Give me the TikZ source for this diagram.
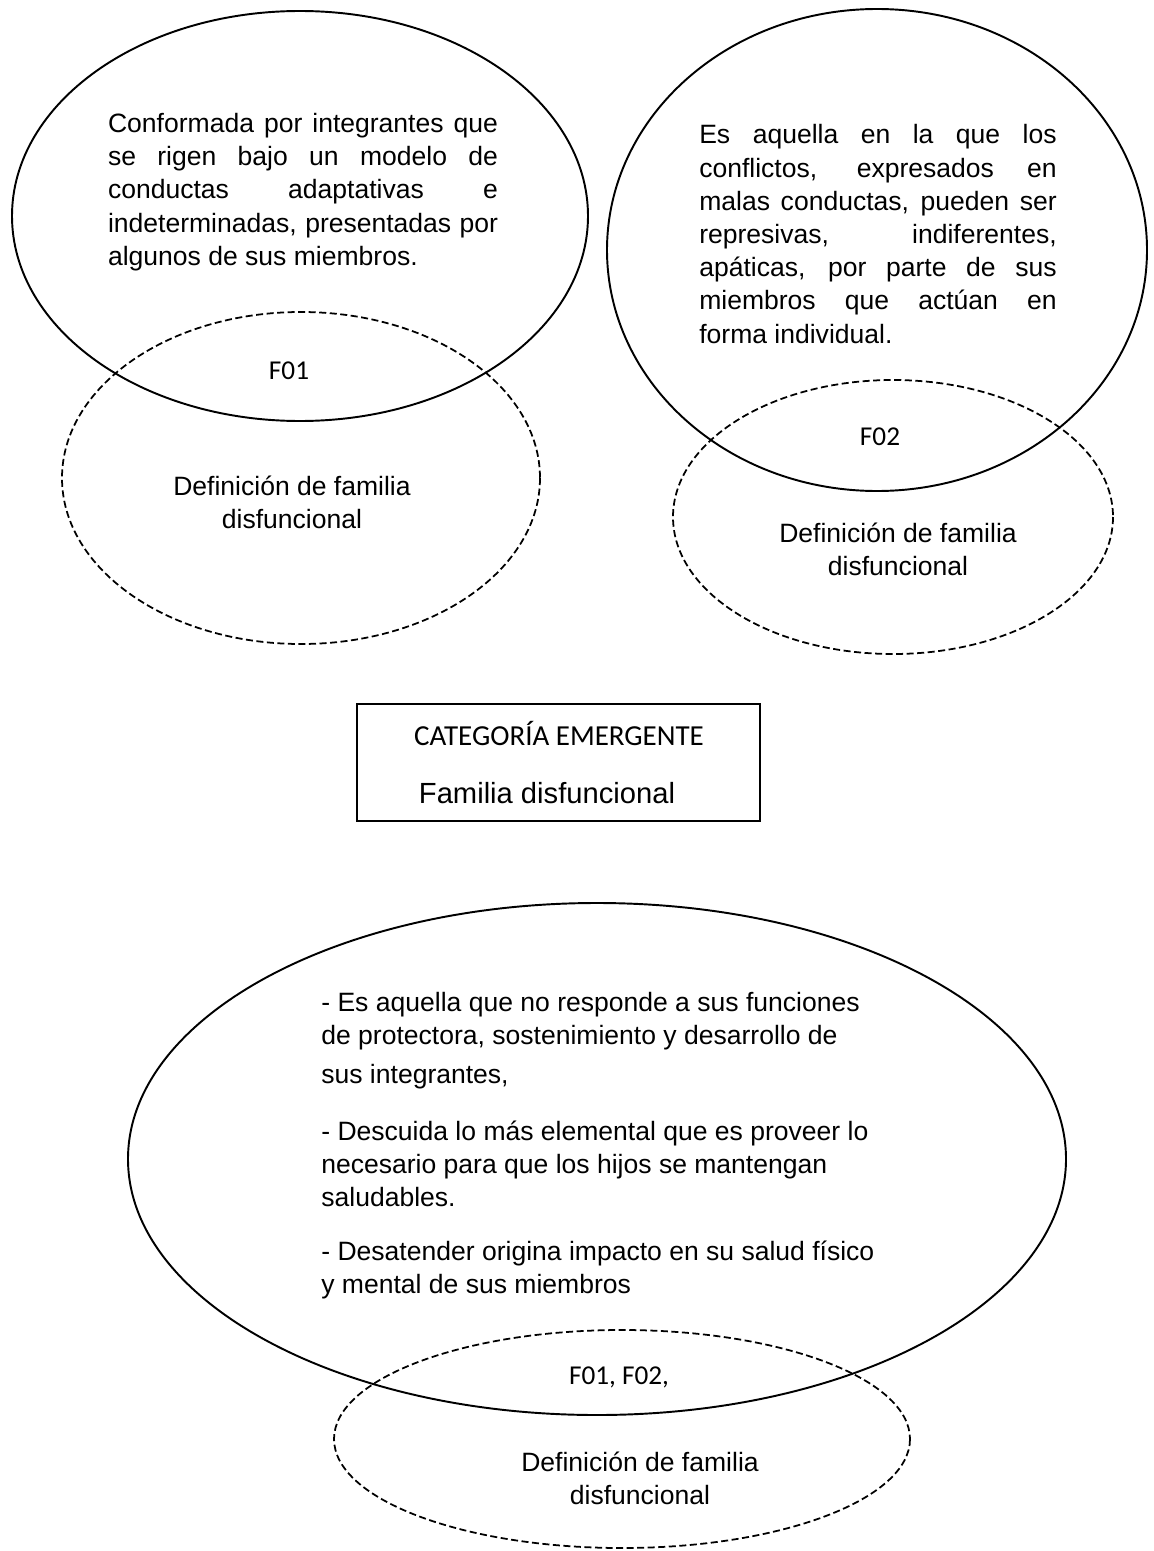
\documentclass[tikz,border=0pt]{standalone}
\usepackage{fontspec}
\setmainfont{Liberation Sans}
\newfontfamily\calibrifont{Carlito}
\usepackage{tikz}
\usetikzlibrary{positioning}

% body text of the ellipses
\newcommand{\bodytext}{\fontsize{15.1}{18.9}\selectfont\tolerance=10000\relax}
\newcommand{\tagtext}{\calibrifont\fontsize{15.5}{18}\selectfont}

\begin{document}
\begin{tikzpicture}[x=0.02cm, y=-0.02cm,
    ring/.style={line width=1.1pt},
    defring/.style={line width=1pt, dash pattern=on 4pt off 2pt},
    para/.style={inner sep=0pt, align=justify, font=\bodytext},
    deftext/.style={inner sep=0pt, align=center, font=\bodytext},
    tag/.style={inner sep=0pt, font=\tagtext}]
  \useasboundingbox (0,0) rectangle (1153,1551);

  % F01: solid ellipse with its definition, dashed ellipse with the label
  \draw[ring] (300,216) ellipse [x radius=288, y radius=205];
  \draw[defring] (301,478) ellipse [x radius=239, y radius=166];
  \node[para, text width=7.8cm] (defA) at (303,192)
    {Conformada por integrantes que\linebreak se rigen bajo un modelo de\linebreak
     conductas adaptativas e\linebreak indeterminadas, presentadas por\linebreak
     algunos de sus miembros.};
  \node[tag] (tagA) at (289,371) {F01};
  \node[deftext] (catA) at (292,502) {Definición de familia\\disfuncional};

  % F02: same layout on the right
  \draw[ring] (877,250) ellipse [x radius=270, y radius=241];
  \draw[defring] (893,517) ellipse [x radius=220, y radius=137];
  \node[para, text width=7.15cm] (defB) at (878,234)
    {Es aquella en la que los\linebreak conflictos, expresados en\linebreak
     malas conductas, pueden ser\linebreak represivas, indiferentes,\linebreak
     apáticas, por parte de sus\linebreak miembros que actúan en\linebreak
     forma individual.};
  \node[tag] (tagB) at (880,437) {F02};
  \node[deftext] (catB) at (898,549) {Definición de familia\\disfuncional};

  % emergent category box
  \draw[line width=1pt] (357,704) rectangle (760,821);
  \node[inner sep=0pt, font=\calibrifont\fontsize{16.5}{19}\selectfont] (catTitle) at (559,733) {CATEGORÍA EMERGENTE};
  \node[inner sep=0pt, font=\fontsize{16.6}{19}\selectfont] (catName) at (547,793) {Familia disfuncional};

  % joint definition F01, F02
  \draw[ring] (597,1159) ellipse [x radius=469, y radius=256];
  \draw[defring] (622,1439) ellipse [x radius=288, y radius=109];
  \node[inner sep=0pt, align=left, anchor=west, font=\fontsize{15.1}{18.8}\selectfont] (defC) at (321,1146)
    {- Es aquella que no responde a sus funciones\\
     de protectora, sostenimiento y desarrollo de\\[3pt]
     sus integrantes,\\[14pt]
     - Descuida lo más elemental que es proveer lo\\
     necesario para que los hijos se mantengan\\
     saludables.\\[12pt]
     - Desatender origina impacto en su salud físico\\
     y mental de sus miembros};
  \node[tag] (tagC) at (619,1377) {F01, F02,};
  \node[deftext] (catC) at (640,1478) {Definición de familia\\disfuncional};
\end{tikzpicture}
\end{document}
